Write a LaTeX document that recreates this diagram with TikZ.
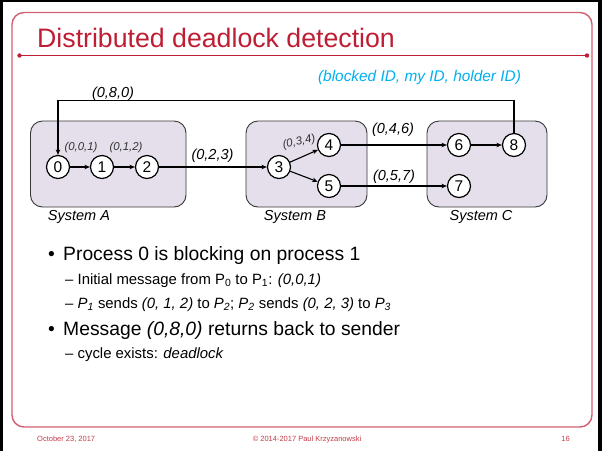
\documentclass[tikz,border=0pt]{standalone}
\usepackage{fontspec}
\setmainfont{Liberation Sans}
\usetikzlibrary{arrows.meta}
\definecolor{titlered}{RGB}{190,30,52}
\definecolor{framered}{RGB}{208,96,112}
\definecolor{footred}{RGB}{196,60,72}
\definecolor{hintblue}{RGB}{0,176,240}
\definecolor{sysfill}{RGB}{228,223,234}
\definecolor{sysedge}{RGB}{55,55,55}
\newcommand{\fs}[1]{\fontsize{#1}{#1}\selectfont}
\begin{document}
\begin{tikzpicture}[x=1pt,y=-1pt,
  proc/.style={circle,draw=black,fill=white,line width=1.2pt,minimum size=23pt,inner sep=0pt,font=\fs{15.5}},
  sysbox/.style={draw=sysedge,fill=sysfill,rounded corners=12pt,line width=0.9pt},
  msg/.style={-{Stealth[length=5.5pt,width=4.5pt]},line width=1.1pt},
  lbl/.style={font=\fs{14.5}\itshape,inner sep=0pt},
  smalllbl/.style={font=\fs{11.4}\itshape,text=black!80,inner sep=0pt},
  syslbl/.style={font=\fs{14.5}\itshape,inner sep=0pt},
  bul/.style={anchor=base west,inner sep=0pt,font=\fs{19.3}},
  sub/.style={anchor=base west,inner sep=0pt,font=\fs{14.9}},
  foot/.style={inner sep=0pt,font=\fs{7.5},text=footred}]
\useasboundingbox (0,0) rectangle (602,451);
\fill[white] (0,0) rectangle (602,451);
% outer black edges
\fill[black] (0,0) rectangle (2.5,451);
\fill[black] (0,0) rectangle (602,2);
\fill[black] (598,0) rectangle (602,451);
% slide frame
\draw[framered,line width=1.4pt,rounded corners=12pt] (12,12.5) rectangle (592,427);
% title
\node[anchor=base west,inner sep=0pt,font=\fs{26.7},text=titlered] (title) at (37,47) {Distributed deadlock detection};
\coordinate (rl) at (19.5,55.5);
\coordinate (rr) at (587,55.5);
\draw[titlered,line width=1.3pt] (rl) -- (rr);
\fill[titlered] (rl) circle (2.2pt) (rr) circle (2.2pt);
% legend
\node[font=\fs{15.4}\itshape,text=hintblue,inner sep=0pt] (legend) at (419.5,78) {(blocked ID, my ID, holder ID)};
% systems
\draw[sysbox] (30.5,121) rectangle (186,207);
\draw[sysbox] (246,121) rectangle (367,207);
\draw[sysbox] (427,121) rectangle (547,207);
\node[syslbl] (sysA) at (79,217) {System A};
\node[syslbl] (sysB) at (295,217) {System B};
\node[syslbl] (sysC) at (481,217) {System C};
% processes
\node[proc] (n0) at (58,167) {0};
\node[proc] (n1) at (102,167) {1};
\node[proc] (n2) at (147,167) {2};
\node[proc] (n3) at (279,167) {3};
\node[proc] (n4) at (329,145) {4};
\node[proc] (n5) at (329,186) {5};
\node[proc] (n6) at (459,145) {6};
\node[proc] (n8) at (514,145) {8};
\node[proc] (n7) at (459,186) {7};
% probe messages
\draw[msg] (n0) -- (n1);
\draw[msg] (n1) -- (n2);
\draw[msg] (n2) -- (n3);
\draw[msg] (n3) -- (n4);
\draw[msg] (n3) -- (n5);
\draw[msg] (n4) -- (n6);
\draw[msg] (n5) -- (n7);
\draw[msg] (n6) -- (n8);
\coordinate (back) at (0,100.5);
\draw[msg] (n8.north) -- (n8.north |- back) -- (n0.north |- back) -- (n0.north);
% message labels
\node[lbl] (m080) at (113,94) {(0,8,0)};
\node[smalllbl] (m001) at (81,148) {(0,0,1)};
\node[smalllbl] (m012) at (126,148) {(0,1,2)};
\node[lbl] (m023) at (212.5,156) {(0,2,3)};
\node[smalllbl,rotate=12] (m034) at (299,142) {(0,3,4)};
\node[lbl] (m046) at (393,130) {(0,4,6)};
\node[lbl] (m057) at (394,177) {(0,5,7)};
% bullets
\node[bul] (b1d) at (48,260) {•};
\node[bul] (b1) at (63,260) {Process 0 is blocking on process 1};
\node[sub] (s1) at (65,284) {– Initial message from P\textsubscript{0} to P\textsubscript{1}: \textit{(0,0,1)}};
\node[sub] (s2) at (65,308) {– \textit{P\textsubscript{1}} sends \textit{(0, 1, 2)} to \textit{P\textsubscript{2}}; \textit{P\textsubscript{2}} sends \textit{(0, 2, 3)} to \textit{P\textsubscript{3}}};
\node[bul] (b2d) at (48,335) {•};
\node[bul] (b2) at (63,335) {Message \textit{(0,8,0)} returns back to sender};
\node[sub] (s3) at (65,358) {– cycle exists: \textit{deadlock}};
% footer
\node[foot,anchor=base west] (fdate) at (37,441) {October 23, 2017};
\node[foot,anchor=base] (fcopy) at (307,441) {© 2014-2017 Paul Krzyzanowski};
\node[foot,anchor=base east] (fpage) at (570,441) {16};
\end{tikzpicture}
\end{document}
